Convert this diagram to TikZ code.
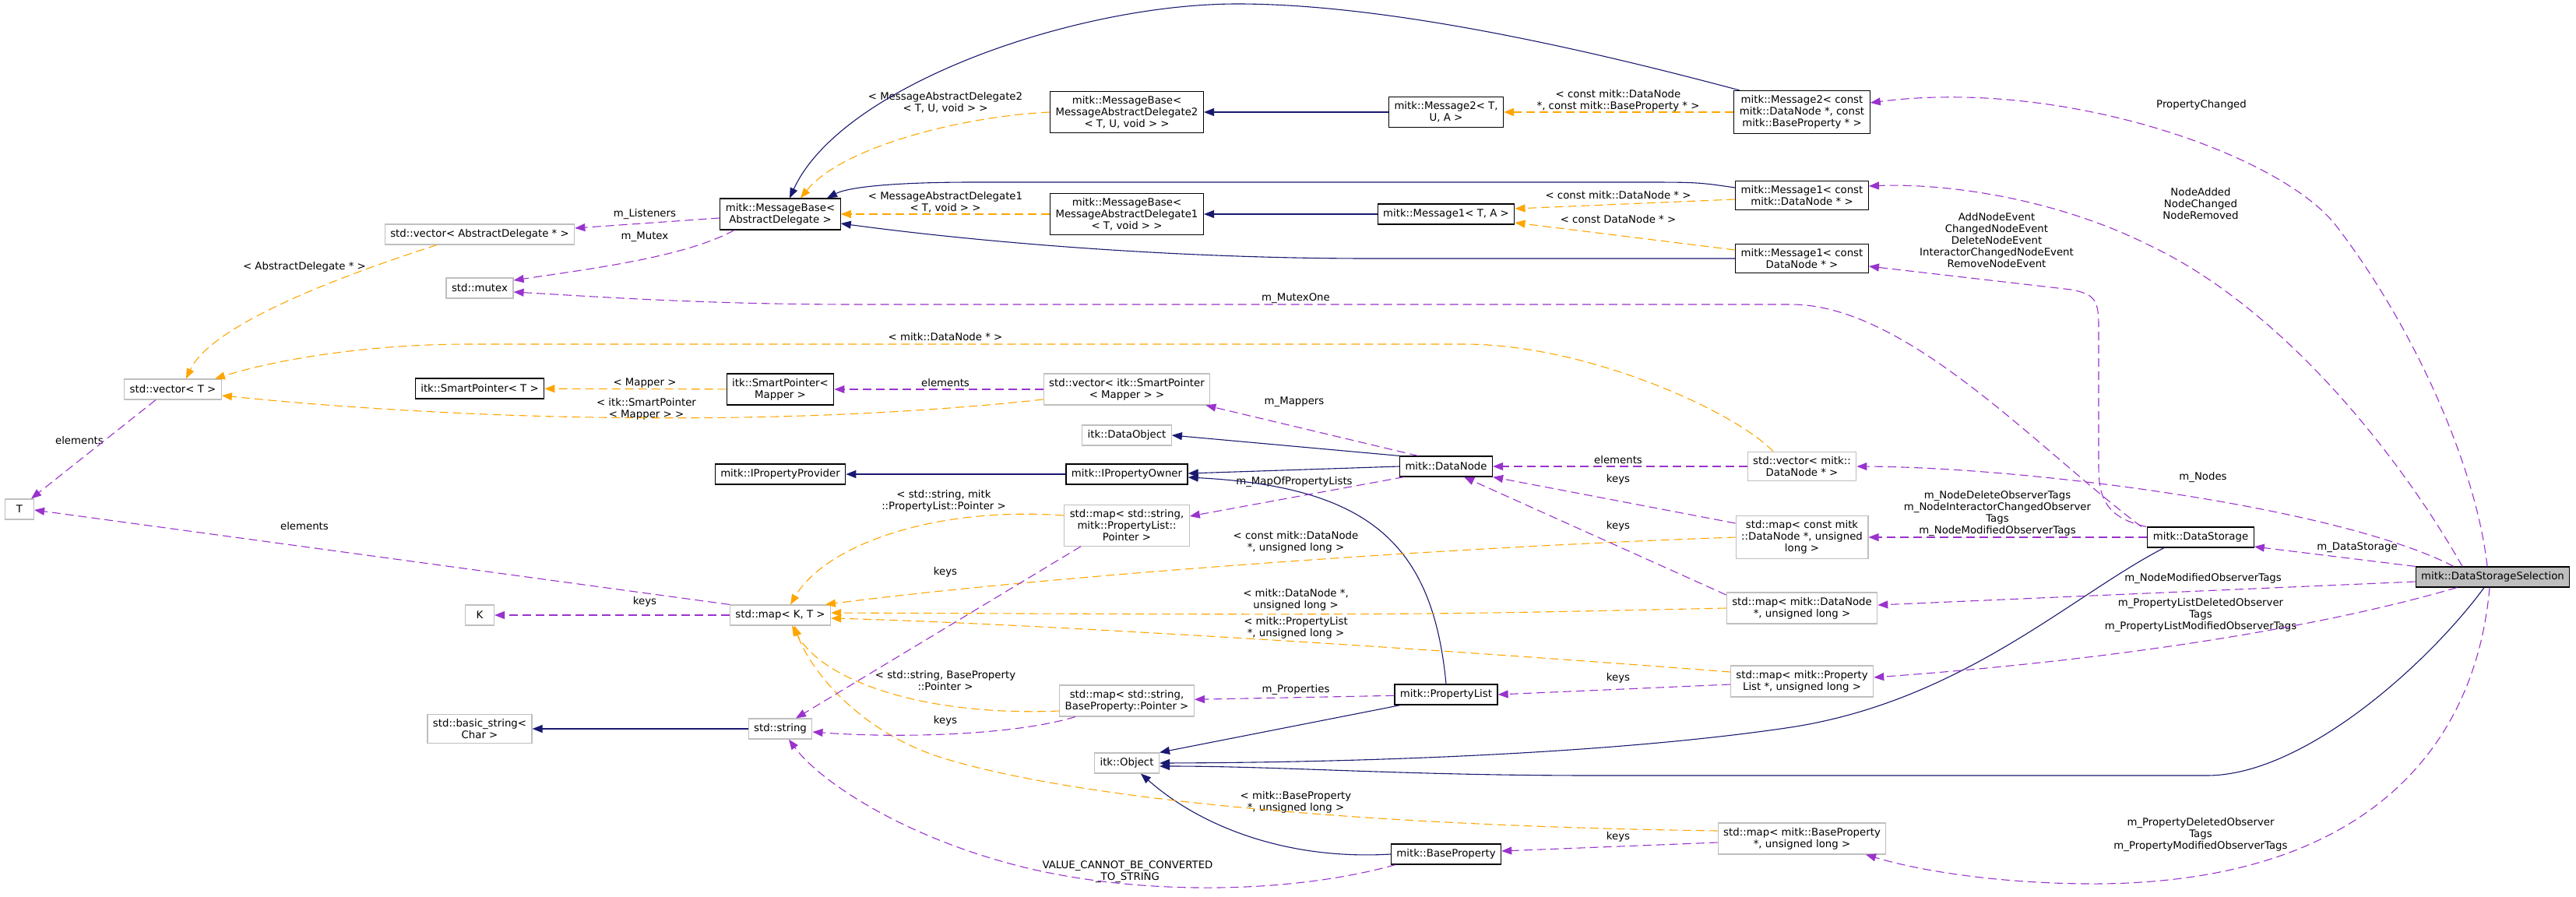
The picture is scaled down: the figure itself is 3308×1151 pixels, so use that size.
\documentclass[tikz,border=0pt]{standalone}
\usepackage{fontspec}
\setmainfont{DejaVu Sans}
\usepackage{tikz}
\usetikzlibrary{arrows.meta}
\definecolor{dxnavy}{RGB}{25,25,112}
\definecolor{dxpurple}{RGB}{154,50,205}
\definecolor{dxorange}{RGB}{255,165,0}
\definecolor{dxgrey}{RGB}{191,191,191}
\tikzset{
  txtfont/.style={font=\fontsize{13.3}{15}\selectfont},
  clsbox/.style={txtfont,draw=black,line width=1.2pt,fill=white,align=center,
    inner xsep=7pt,inner ysep=6pt,minimum height=26pt,minimum width=37pt},
  extbox/.style={clsbox,draw=dxgrey},
  selbox/.style={clsbox,fill=dxgrey},
  inhline/.style={draw=dxnavy,line width=1.1pt,-{Triangle[length=13pt,width=10pt]}},
  useline/.style={draw=dxpurple,line width=1.1pt,dash pattern=on 11pt off 6pt,
    -{Triangle[length=13pt,width=10pt]}},
  tmplline/.style={useline,draw=dxorange},
  lblfont/.style={txtfont,align=center,inner sep=0pt},
}
\newcommand{\elbl}[3]{\node[lblfont] (#1) at (#2) {#3};}

\begin{document}
\begin{tikzpicture}[x=1pt,y=-1pt]
\useasboundingbox (0,0) rectangle (3308,1151);
\node[extbox] (t) at (25,654) {T};
\node[extbox] (vect) at (222,500) {std::vector< T >};
\node[extbox] (vecad) at (616,301) {std::vector< AbstractDelegate * >};
\node[extbox] (mutex) at (616,370) {std::mutex};
\node[clsbox] (spt) at (616,499) {itk::SmartPointer< T >};
\node[extbox] (k) at (616,790) {K};
\node[extbox] (bstr) at (616,936) {std::basic\_string<\\ Char >};
\node[clsbox] (mbad) at (1002,275) {mitk::MessageBase<\\ AbstractDelegate >};
\node[clsbox] (spm) at (1002,500) {itk::SmartPointer<\\ Mapper >};
\node[clsbox] (ipp) at (1002,609) {mitk::IPropertyProvider};
\node[extbox] (mapkt) at (1002,790) {std::map< K, T >};
\node[extbox] (str) at (1002,936) {std::string};
\node[clsbox] (mbmad2) at (1447,144) {mitk::MessageBase<\\ MessageAbstractDelegate2\\ < T, U, void > >};
\node[clsbox] (mbmad1) at (1447,275) {mitk::MessageBase<\\ MessageAbstractDelegate1\\ < T, void > >};
\node[extbox] (vecspm) at (1447,500) {std::vector< itk::SmartPointer\\ < Mapper > >};
\node[extbox] (dobj) at (1447,559) {itk::DataObject};
\node[clsbox] (ipo) at (1447,609) {mitk::IPropertyOwner};
\node[extbox] (mapspl) at (1447,675) {std::map< std::string,\\ mitk::PropertyList::\\ Pointer >};
\node[extbox] (mapsbp) at (1447,900) {std::map< std::string,\\ BaseProperty::Pointer >};
\node[extbox] (itkobj) at (1447,980) {itk::Object};
\node[clsbox] (msg2t) at (1857,144) {mitk::Message2< T,\\ U, A >};
\node[clsbox] (msg1t) at (1857,275) {mitk::Message1< T, A >};
\node[clsbox] (dnode) at (1857,599) {mitk::DataNode};
\node[clsbox] (plist) at (1857,892) {mitk::PropertyList};
\node[clsbox] (bprop) at (1857,1097) {mitk::BaseProperty};
\node[clsbox] (msg2c) at (2314,144) {mitk::Message2< const\\ mitk::DataNode *, const\\ mitk::BaseProperty * >};
\node[clsbox] (msg1c) at (2314,251) {mitk::Message1< const\\ mitk::DataNode * >};
\node[clsbox] (msg1d) at (2314,332) {mitk::Message1< const\\ DataNode * >};
\node[extbox] (vecdn) at (2314,599) {std::vector< mitk::\\ DataNode * >};
\node[extbox] (mapcdn) at (2314,690) {std::map< const mitk\\ ::DataNode *, unsigned\\ long >};
\node[extbox] (mapdn) at (2314,781) {std::map< mitk::DataNode\\{}*, unsigned long >};
\node[extbox] (mappl) at (2314,875) {std::map< mitk::Property\\ List *, unsigned long >};
\node[extbox] (mapbp) at (2314,1077) {std::map< mitk::BaseProperty\\{}*, unsigned long >};
\node[clsbox] (dstore) at (2826,690) {mitk::DataStorage};
\node[selbox] (dss) at (3201,741) {mitk::DataStorageSelection};

\elbl{lPropChg}{2827,135}{PropertyChanged}
\elbl{lNodeAdd}{2826,262}{NodeAdded\\ NodeChanged\\ NodeRemoved}
\elbl{lAddEvt}{2564,309}{AddNodeEvent\\ ChangedNodeEvent\\ DeleteNodeEvent\\ InteractorChangedNodeEvent\\ RemoveNodeEvent}
\elbl{lMutexOne}{1664,383}{m\_MutexOne}
\elbl{lMsg2c}{2078,129}{< const mitk::DataNode\\{}*, const mitk::BaseProperty * >}
\elbl{lMad2}{1214,132}{< MessageAbstractDelegate2\\ < T, U, void > >}
\elbl{lMad1}{1214,260}{< MessageAbstractDelegate1\\ < T, void > >}
\elbl{lMsg1c}{2078,251}{< const mitk::DataNode * >}
\elbl{lMsg1d}{2078,282}{< const DataNode * >}
\elbl{lListen}{828,275}{m\_Listeners}
\elbl{lMutex}{828,304}{m\_Mutex}
\elbl{lAbsDel}{391,343}{< AbstractDelegate * >}
\elbl{lDNptr}{1214,433}{< mitk::DataNode * >}
\elbl{lMapper}{828,492}{< Mapper >}
\elbl{lSPM}{830,525}{< itk::SmartPointer\\ < Mapper > >}
\elbl{lElemVT}{102,566}{elements}
\elbl{lElemSPM}{1214,492}{elements}
\elbl{lMappers}{1662,516}{m\_Mappers}
\elbl{lElemDN}{2078,591}{elements}
\elbl{lKeysCDN}{2078,616}{keys}
\elbl{lMapPL}{1662,619}{m\_MapOfPropertyLists}
\elbl{lNodes}{2829,613}{m\_Nodes}
\elbl{lObsTags}{2565,660}{m\_NodeDeleteObserverTags\\ m\_NodeInteractorChangedObserver\\ Tags\\ m\_NodeModifiedObserverTags}
\elbl{lKeysDN}{2078,676}{keys}
\elbl{lStrPL}{1212,643}{< std::string, mitk\\ ::PropertyList::Pointer >}
\elbl{lElemT}{391,676}{elements}
\elbl{lCDNul}{1664,696}{< const mitk::DataNode\\{}*, unsigned long >}
\elbl{lDataSt}{3027,703}{m\_DataStorage}
\elbl{lKeysSPL}{1214,735}{keys}
\elbl{lNodeMod}{2829,743}{m\_NodeModifiedObserverTags}
\elbl{lDNul}{1664,770}{< mitk::DataNode *,\\ unsigned long >}
\elbl{lKeysK}{828,773}{keys}
\elbl{lPLDel}{2826,790}{m\_PropertyListDeletedObserver\\ Tags\\ m\_PropertyListModifiedObserverTags}
\elbl{lPLul}{1664,806}{< mitk::PropertyList\\{}*, unsigned long >}
\elbl{lStrBP}{1214,874}{< std::string, BaseProperty\\ ::Pointer >}
\elbl{lKeysPL}{2078,871}{keys}
\elbl{lProps}{1664,886}{m\_Properties}
\elbl{lKeysSBP}{1214,926}{keys}
\elbl{lBPul}{1664,1030}{< mitk::BaseProperty\\{}*, unsigned long >}
\elbl{lKeysBP}{2078,1075}{keys}
\elbl{lPDel}{2826,1072}{m\_PropertyDeletedObserver\\ Tags\\ m\_PropertyModifiedObserverTags}
\elbl{lValue}{1448,1120}{VALUE\_CANNOT\_BE\_CONVERTED\\ \_TO\_STRING}

\draw[inhline] (msg2t) -- (mbmad2);
\draw[inhline] (msg1t) -- (mbmad1);
\draw[inhline] (ipo) -- (ipp);
\draw[inhline] (str) -- (bstr);
\draw[inhline] (dnode.north west) -- (dobj.east);
\draw[inhline] (dnode.west) -- ([yshift=1pt]ipo.east);
\draw[inhline] (plist.north) .. controls (1840,700) and (1760,625) .. ([yshift=-4pt]ipo.east);
\draw[inhline] ([xshift=8pt]plist.south west) -- (itkobj.north east);
\draw[inhline] ([xshift=-47pt]dstore.south) .. controls (2660,765) and (2520,900) .. (2300,934)
  .. controls (2100,964) and (1800,979) .. (itkobj.east);
\draw[inhline] ([xshift=-11pt]dss.south) .. controls (3120,850) and (2960,996) .. (2834,996) -- (2050,996)
  .. controls (1800,996) and (1650,984) .. ([yshift=-4pt]itkobj.east);
\draw[inhline] (bprop.west) .. controls (1650,1105) and (1540,1060) .. ([xshift=18pt]itkobj.south);
\draw[inhline] ([xshift=-80pt]msg2c.north) .. controls (2080,75) and (1800,5) .. (1589,5)
  .. controls (1380,5) and (1080,110) .. ([xshift=12pt]mbad.north);
\draw[inhline] ([yshift=10pt]msg1c.west) .. controls (2180,234) .. (2100,234) -- (1250,234)
  .. controls (1150,234) and (1090,240) .. ([xshift=60pt]mbad.north);
\draw[inhline] (msg1d.west) -- (1760,332) .. controls (1500,332) and (1250,310) .. ([yshift=-12pt]mbad.east);

\draw[tmplline] (msg2c) -- (msg2t);
\draw[tmplline] ([yshift=-5pt]msg1c.west) -- ([yshift=7pt]msg1t.east);
\draw[tmplline] ([yshift=11pt]msg1d.west) -- ([yshift=-11pt]msg1t.east);
\draw[tmplline] (mbmad2.west) .. controls (1230,150) and (1080,190) .. ([xshift=26pt]mbad.north);
\draw[tmplline] (mbmad1) -- (mbad);
\draw[tmplline] (spm) -- (spt);
\draw[tmplline] ([xshift=-55pt]vecad.south) .. controls (420,360) and (270,420) .. ([xshift=17pt]vect.north);
\draw[tmplline] ([xshift=-37pt]vecdn.north) .. controls (2230,530) and (2040,442) .. (1880,442) -- (600,442)
  .. controls (480,442) and (360,460) .. ([xshift=-9pt]vect.north east);
\draw[tmplline] ([yshift=-13pt]vecspm.west) .. controls (1000,550) and (600,540) .. ([yshift=-8pt]vect.east);
\draw[tmplline] (mapcdn.west) .. controls (1800,705) and (1300,745) .. ([xshift=58pt]mapkt.north);
\draw[tmplline] (mapdn.west) .. controls (1800,790) .. ([yshift=3pt]mapkt.east);
\draw[tmplline] ([yshift=12pt]mappl.west) .. controls (1800,830) and (1300,800) .. ([yshift=-4pt]mapkt.east);
\draw[tmplline] ([yshift=13pt]mapspl.west) .. controls (1200,650) and (1060,700) .. ([xshift=13pt]mapkt.north);
\draw[tmplline] ([yshift=-13pt]mapsbp.west) .. controls (1200,920) and (1060,880) .. ([xshift=15pt]mapkt.south);
\draw[tmplline] ([yshift=10pt]mapbp.west) .. controls (1700,1060) and (1350,1020) .. (1200,970)
  .. controls (1100,935) and (1040,860) .. ([xshift=18pt]mapkt.south);

\draw[useline] ([yshift=-5pt]mbad.west) -- ([yshift=8pt]vecad.east);
\draw[useline] ([xshift=-59pt]mbad.south) .. controls (880,330) and (760,345) .. ([yshift=10pt]mutex.east);
\draw[useline] ([xshift=-76pt]dstore.north) .. controls (2620,580) and (2450,391) .. (2300,391) -- (1100,391)
  .. controls (900,391) and (750,380) .. ([yshift=-5pt]mutex.east);
\draw[useline] ([xshift=-70pt]dstore.north) .. controls (2705,665) and (2695,640) .. (2695,600) -- (2695,420)
  .. controls (2695,385) and (2690,378) .. (2660,372) -- ([yshift=-10pt]msg1d.east);
\draw[useline] ([xshift=-39pt]dss.north) .. controls (3090,600) and (2940,400) .. (2760,315)
  .. controls (2640,255) and (2500,235) .. ([yshift=12pt]msg1c.east);
\draw[useline] ([xshift=-7pt]dss.north) .. controls (3180,600) and (3100,420) .. (3000,290)
  .. controls (2930,199) and (2650,100) .. ([yshift=12pt]msg2c.east);
\draw[useline] ([xshift=-50pt]dss.north) .. controls (3000,650) and (2600,600) .. (vecdn.east);
\draw[useline] (dss.north west) -- ([yshift=-12pt]dstore.east);
\draw[useline] (dstore) -- (mapcdn);
\draw[useline] ([yshift=-6pt]dss.west) -- ([yshift=4pt]mapdn.east);
\draw[useline] ([xshift=-46pt]dss.south) .. controls (3000,800) and (2750,845) .. ([yshift=5pt]mappl.east);
\draw[useline] ([xshift=-4pt]dss.south) .. controls (3180,950) and (3050,1130) .. (2700,1135)
  .. controls (2580,1136) and (2470,1120) .. ([xshift=82pt]mapbp.south);
\draw[useline] (vecdn) -- (dnode);
\draw[useline] ([yshift=18pt]mapcdn.west) -- (dnode.south east);
\draw[useline] ([yshift=17pt]mapdn.west) -- ([xshift=23pt]dnode.south);
\draw[useline] ([xshift=-36pt]dnode.north) -- ([xshift=-6pt]vecspm.south east);
\draw[useline] ([xshift=-54pt]dnode.south) -- ([yshift=12pt]mapspl.east);
\draw[useline] (vecspm) -- (spm);
\draw[useline] (plist) -- (mapsbp);
\draw[useline] ([yshift=-4pt]mappl.west) -- (plist.east);
\draw[useline] ([yshift=-5pt]mapbp.west) -- ([yshift=4pt]bprop.east);
\draw[useline] ([xshift=-59pt]mapspl.south) -- ([xshift=20pt]str.north);
\draw[useline] ([xshift=-66pt]mapsbp.south) .. controls (1300,945) and (1150,948) .. ([yshift=-4pt]str.east);
\draw[useline] ([xshift=-65pt]bprop.south) .. controls (1650,1150) and (1450,1150) .. (1300,1110)
  .. controls (1150,1070) and (1050,1000) .. ([xshift=11pt]str.south);
\draw[useline] (mapkt.north west) -- ([yshift=-1pt]t.east);
\draw[useline] (mapkt) -- (k);
\draw[useline] ([xshift=-22pt]vect.south) -- ([xshift=15pt]t.north);
\end{tikzpicture}
\end{document}
